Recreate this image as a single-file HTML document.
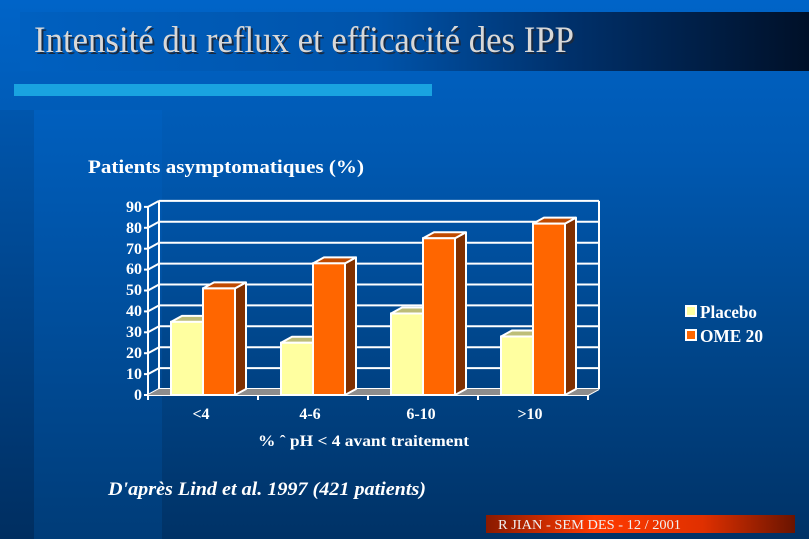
<!DOCTYPE html>
<html><head><meta charset="utf-8"><style>
html,body{margin:0;padding:0}
body{width:809px;height:539px;overflow:hidden;position:relative;font-family:"Liberation Serif",serif;
background:linear-gradient(180deg,#0064c8 0%,#0058b0 30%,#00488f 60%,#003266 100%);}
.strip{position:absolute;left:0;top:110px;width:34px;height:429px;background:linear-gradient(180deg,#0056ad,#002e60)}
.panel{position:absolute;left:34px;top:110px;width:128px;height:429px;background:linear-gradient(180deg,#005fbe,#003c78)}
.titlebar{position:absolute;left:20px;top:12px;width:789px;height:59px;background:linear-gradient(90deg,#0060c0 0%,#0054ab 45%,#00306a 70%,#001028 100%)}
.hatch{position:absolute;left:14px;top:84px;width:418px;height:12px;background:#19a3e0}
</style></head><body>
<div class="strip"></div><div class="panel"></div>
<div class="titlebar"></div>
<div class="hatch"></div>
<svg width="809" height="539" style="position:absolute;left:0;top:0" font-family="Liberation Serif, serif" font-weight="bold" fill="#fff">
<text x="36" y="54" font-size="37" font-weight="normal" fill="#1a2a40" textLength="540" lengthAdjust="spacingAndGlyphs">Intensité du reflux et efficacité des IPP</text>
<text x="34" y="52" font-size="37" font-weight="normal" fill="#d8d8d8" textLength="540" lengthAdjust="spacingAndGlyphs">Intensité du reflux et efficacité des IPP</text>
<text x="88" y="173" font-size="19" textLength="276" lengthAdjust="spacingAndGlyphs">Patients asymptomatiques (%)</text>
<g id="grid" stroke="#fff" stroke-width="2" fill="none"></g>
<g id="bars"></g>
<g font-size="16" text-anchor="end">
<text x="142" y="400">0</text><text x="142" y="379">10</text><text x="142" y="358">20</text><text x="142" y="337">30</text><text x="142" y="316">40</text><text x="142" y="295">50</text><text x="142" y="274">60</text><text x="142" y="254">70</text><text x="142" y="233">80</text><text x="142" y="212">90</text>
</g>
<g font-size="16" text-anchor="middle">
<text x="201" y="419">&lt;4</text><text x="310" y="419">4-6</text><text x="421" y="419">6-10</text><text x="530" y="419">&gt;10</text>
</g>
<text x="258" y="446" font-size="16" textLength="211" lengthAdjust="spacingAndGlyphs">% ˆ  pH &lt; 4 avant traitement</text>
<text x="108" y="495" font-size="19" font-style="italic" textLength="318" lengthAdjust="spacingAndGlyphs">D'après Lind et al. 1997 (421 patients)</text>
<rect x="686" y="306" width="10" height="10" fill="#ffffa0" stroke="#fff" stroke-width="2"/>
<text x="700" y="318" font-size="18" textLength="57" lengthAdjust="spacingAndGlyphs">Placebo</text>
<rect x="686" y="330" width="10" height="10" fill="#ff6600" stroke="#fff" stroke-width="2"/>
<text x="700" y="342" font-size="18" textLength="63" lengthAdjust="spacingAndGlyphs">OME 20</text>
<defs><linearGradient id="rg" x1="0" x2="1"><stop offset="0" stop-color="#8a1a00"/><stop offset="0.35" stop-color="#ff3a00"/><stop offset="0.7" stop-color="#e03000"/><stop offset="1" stop-color="#6a1400"/></linearGradient></defs>
<rect x="486" y="515" width="309" height="18" fill="url(#rg)"/>
<text x="498" y="529" font-size="14" font-weight="normal" fill="#f0f0f0" textLength="183" lengthAdjust="spacingAndGlyphs">R JIAN - SEM DES - 12 / 2001</text>
</svg>
<script>
var ns="http://www.w3.org/2000/svg";
function el(p,t,a){var e=document.createElementNS(ns,t);for(var k in a)e.setAttribute(k,a[k]);p.appendChild(e);return e;}
var g=document.getElementById('grid'),b=document.getElementById('bars');
var u=2.09,y0=395,dx=11,dy=-6,xL=148,xR=588;
el(b,'polygon',{points:xL+','+y0+' '+xR+','+y0+' '+(xR+dx)+','+(y0+dy)+' '+(xL+dx)+','+(y0+dy),fill:'#8c8c8c'});
for(var v=0;v<=90;v+=10){var y=y0-v*u;
 el(g,'line',{x1:xL+dx,y1:y+dy,x2:xR+dx,y2:y+dy});
 el(g,'line',{x1:xL,y1:y,x2:xL+dx,y2:y+dy});
 el(g,'line',{x1:xL-4,y1:y,x2:xL,y2:y});}
el(g,'line',{x1:xL+dx,y1:y0+dy,x2:xL+dx,y2:y0-90*u+dy});
el(g,'line',{x1:xR+dx,y1:y0+dy,x2:xR+dx,y2:y0-90*u+dy});
el(g,'line',{x1:xL,y1:y0+1,x2:xL,y2:y0-90*u});
el(g,'line',{x1:xL,y1:y0,x2:xR,y2:y0});
el(g,'line',{x1:xR,y1:y0,x2:xR+dx,y2:y0+dy});
for(var i=0;i<=4;i++){var x=xL+i*110;el(g,'line',{x1:x,y1:y0,x2:x,y2:y0+5});}
var P=[35,25,39,28],O=[51,63,75,82];
var cols=[['#ffffa0','#bdbd78','#bdbd78'],['#ff6600','#c04a00','#803000']];
for(var i=0;i<4;i++){var c=xL+55+i*110;
 [[c-32,P[i],0],[c,O[i],1]].forEach(function(s){
  var x=s[0],w=32,y=y0-s[1]*u,cl=cols[s[2]];
  el(b,'polygon',{points:(x+w)+','+y+' '+(x+w+dx)+','+(y+dy)+' '+(x+w+dx)+','+(y0+dy)+' '+(x+w)+','+y0,fill:cl[2],stroke:'#fff','stroke-width':2,'stroke-linejoin':'round'});
  el(b,'polygon',{points:x+','+y+' '+(x+dx)+','+(y+dy)+' '+(x+w+dx)+','+(y+dy)+' '+(x+w)+','+y,fill:cl[1],stroke:'#fff','stroke-width':2});
  el(b,'rect',{x:x,y:y,width:w,height:y0-y,fill:cl[0],stroke:'#fff','stroke-width':2});
 });}
</script>
</body></html>
